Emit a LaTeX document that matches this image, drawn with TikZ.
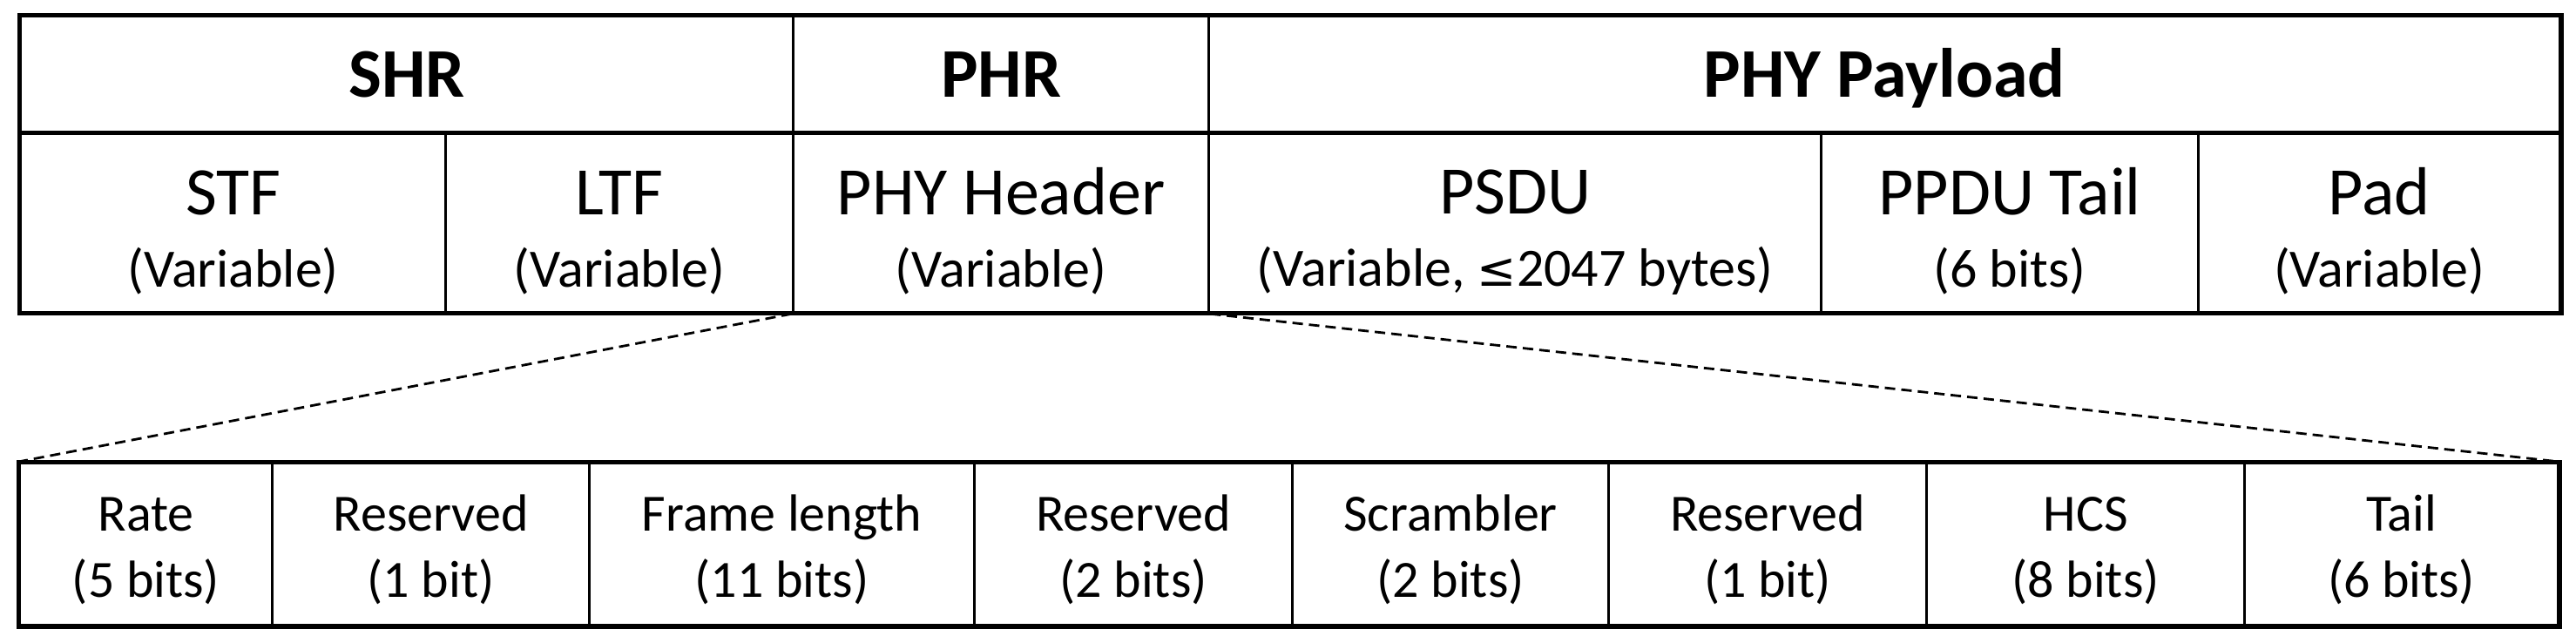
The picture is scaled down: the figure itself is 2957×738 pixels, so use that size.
\documentclass[tikz,border=0pt]{standalone}
\usepackage{fontspec}
\setmainfont{Carlito}
\newfontfamily\symfont{DejaVu Sans}
\usepackage{tikz}

\begin{document}
\begin{tikzpicture}[x=0.25pt,y=-0.25pt]
	\tikzstyle{cell}=[draw=black,line width=0.8pt,inner sep=0pt,anchor=north west]
	\tikzstyle{head}=[cell,minimum height=33.25pt,text height=15pt,text depth=1.75pt,font=\fontsize{20}{24}\selectfont\bfseries]
	\tikzstyle{field}=[cell,align=center,minimum height=51.75pt,font=\fontsize{19.5}{20.75}\selectfont]
	\tikzstyle{bits}=[cell,align=center,minimum height=46.5pt,font=\fontsize{15}{19}\selectfont]
	\tikzstyle{frame}=[line width=1.15pt]
	\newcommand{\sub}[1]{{\fontsize{15.5}{20.75}\selectfont #1}}
	\newcommand{\fstrut}{\rule{0pt}{18.35pt}}
	\newcommand{\bstrut}{\rule{0pt}{13.7pt}}
	\useasboundingbox (0,0) rectangle (2957,738);
	% top frame
	\node[head,minimum width=221.75pt](shr) at (22,17) {SHR};
	\node[head,minimum width=119.25pt](phr) at (909,17) {PHR};
	\node[head,minimum width=387.75pt](payload) at (1386,17) {PHY Payload};
	\node[field,minimum width=122pt](stf) at (22,150) {\fstrut STF\\\sub{(Variable)}};
	\node[field,minimum width=99.75pt](ltf) at (510,150) {\fstrut LTF\\\sub{(Variable)}};
	\node[field,minimum width=119.25pt](phyhdr) at (909,150) {\fstrut PHY Header\\\sub{(Variable)}};
	\node[field,minimum width=175.75pt](psdu) at (1386,150) {\fstrut PSDU\\\sub{(Variable, {\symfont\fontsize{13.5}{20.75}\selectfont ≤}2047 bytes)}};
	\node[field,minimum width=108.25pt](ppdutail) at (2089,150) {\fstrut PPDU Tail\\\sub{(6 bits)}};
	\node[field,minimum width=103.75pt](pad) at (2522,150) {\fstrut Pad\\\sub{(Variable)}};
	\draw[frame] (shr.north west) rectangle (pad.south east);
	\draw[frame] (shr.south west) -- (payload.south east);
	% PHY header fields
	\node[bits,minimum width=72.5pt](rate) at (21,530) {\bstrut Rate\\(5 bits)};
	\node[bits,minimum width=91pt](resa) at (311,530) {\bstrut Reserved\\(1 bit)};
	\node[bits,minimum width=110.5pt](flen) at (675,530) {\bstrut Frame length\\(11 bits)};
	\node[bits,minimum width=91.25pt](resb) at (1117,530) {\bstrut Reserved\\(2 bits)};
	\node[bits,minimum width=90.75pt](scr) at (1482,530) {\bstrut Scrambler\\(2 bits)};
	\node[bits,minimum width=91.25pt](resc) at (1845,530) {\bstrut Reserved\\(1 bit)};
	\node[bits,minimum width=91.25pt](hcs) at (2210,530) {\bstrut HCS\\(8 bits)};
	\node[bits,minimum width=90pt](tail) at (2575,530) {\bstrut Tail\\(6 bits)};
	\draw[frame] (rate.north west) rectangle (tail.south east);
	\path[dash pattern=on 3pt off 1.75pt,line width=0.7pt]
		(phyhdr.south west) edge (rate.north west)
		(phyhdr.south east) edge (tail.north east);
\end{tikzpicture}
\end{document}
